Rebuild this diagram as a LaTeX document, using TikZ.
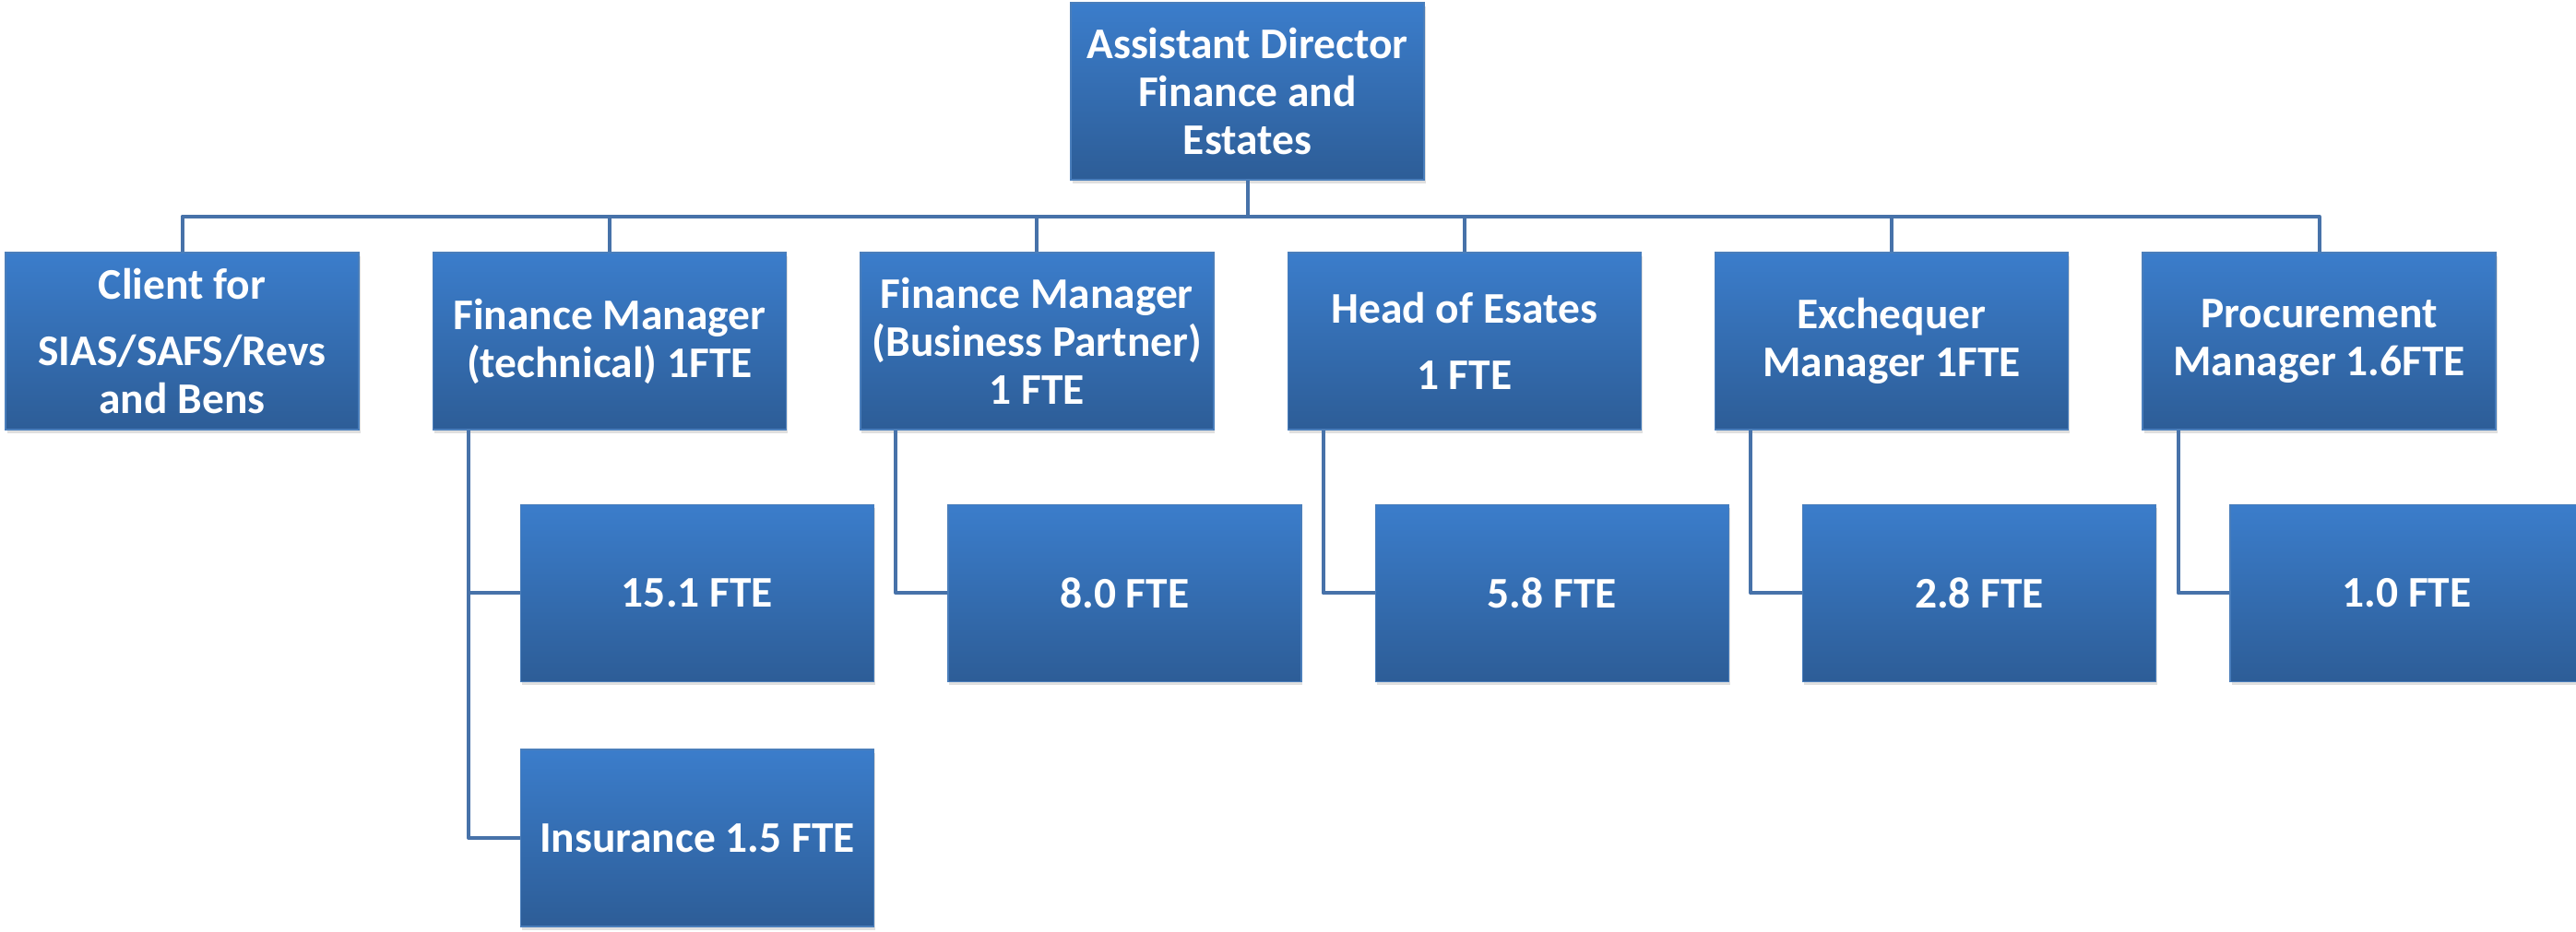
\documentclass[tikz,border=0pt]{standalone}
\usepackage{fontspec}
\setmainfont{Carlito}
\usetikzlibrary{positioning,shadows}
\definecolor{boxtop}{HTML}{3B7DCB}
\definecolor{boxbot}{HTML}{2D5D97}
\definecolor{boxedge}{HTML}{4A7EBB}
\definecolor{linkblue}{HTML}{4772A9}

\begin{document}
\begin{tikzpicture}[
  post/.style={rectangle,minimum width=3.83cm,minimum height=1.92cm,inner sep=0pt,
    top color=boxtop,bottom color=boxbot,draw=boxedge,line width=0.4pt,
    align=center,text=white,font=\bfseries\fontsize{13.5}{14.8}\selectfont,
    drop shadow={shadow xshift=0.015cm,shadow yshift=-0.04cm,opacity=0.25}},
  link/.style={draw=linkblue,line width=0.04cm,line join=round},
  node distance=0.79cm]

  \useasboundingbox (0,0) rectangle (27.93,-10.11);

  \node[post] (dir)    at (13.525,-0.99) {Assistant Director\\Finance and\\Estates};
  \node[post] (client) at (1.975,-3.70)  {Client for\\[0.2cm]SIAS/SAFS/Revs\\and Bens};
  \node[post] (ftech)  [right=of client] {Finance Manager\\(technical) 1FTE};
  \node[post] (fbp)    [right=of ftech]  {Finance Manager\\(Business Partner)\\1 FTE};
  \node[post] (est)    [right=of fbp]    {Head of Esates\\[0.2cm]1 FTE};
  \node[post] (exch)   [right=of est]    {Exchequer\\Manager 1FTE};
  \node[post] (proc)   [right=of exch]   {Procurement\\Manager 1.6FTE};

  \node[post] (ftech1) [below=0.8cm of ftech,xshift=0.95cm] {15.1 FTE};
  \node[post] (ins)    [below=0.72cm of ftech1]             {Insurance 1.5 FTE};
  \node[post] (fbp1)   [below=0.8cm of fbp,xshift=0.95cm]   {8.0 FTE};
  \node[post] (est1)   [below=0.8cm of est,xshift=0.95cm]   {5.8 FTE};
  \node[post] (exch1)  [below=0.8cm of exch,xshift=0.95cm]  {2.8 FTE};
  \node[post] (proc1)  [below=0.8cm of proc,xshift=0.95cm]  {1.0 FTE};

  \draw[link] (dir.south) -- ++(0,-0.39) coordinate (bus);
  \foreach \n in {client,ftech,fbp,est,exch,proc}
    \draw[link] (bus) -| (\n.north);
  \foreach \p/\c in {ftech/ftech1,ftech/ins,fbp/fbp1,est/est1,exch/exch1,proc/proc1}
    \draw[link] ([xshift=-1.53cm]\p.south) |- (\c.west);
\end{tikzpicture}
\end{document}
